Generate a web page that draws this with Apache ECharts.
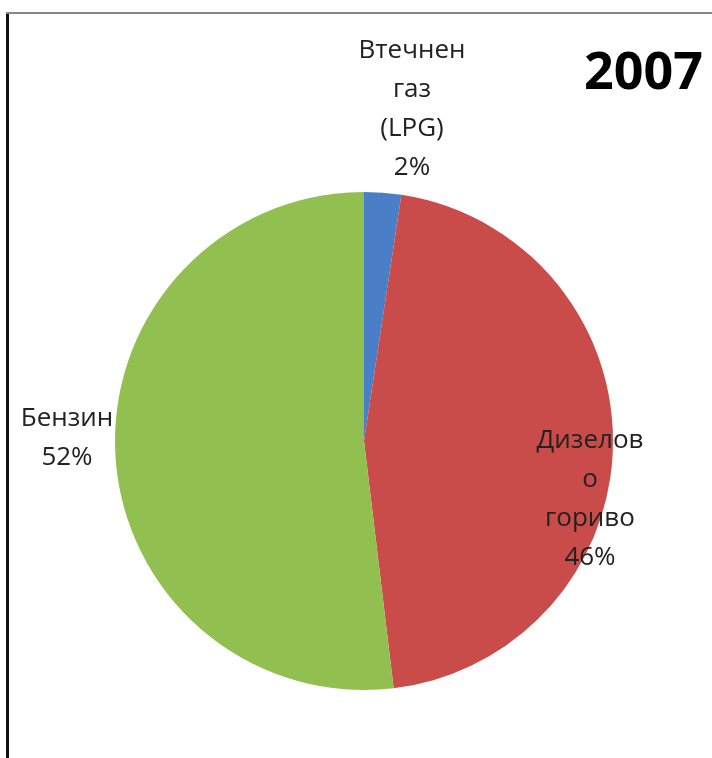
<!DOCTYPE html>
<html>
<head>
<meta charset="utf-8">
<script src="https://cdn.jsdelivr.net/npm/echarts@6/dist/echarts.min.js"></script>
<style>
  html, body { margin: 0; padding: 0; background: #fff; }
  #chart { width: 712px; height: 758px; }
</style>
</head>
<body>
<div id="chart"></div>
<script>
// данни
var names = ['Втечнен\nгаз\n(LPG)', 'Дизелов\nо\nгориво', 'Бензин'];
var values = [2.4, 45.7, 51.9];
var colors = ['#4a7ec6', '#c94c4a', '#92c050'];

// pie geometry
var cx = 364, cy = 441, r = 249;
// label centres (relative to pie centre)
var labelOffsets = [[48, -332], [226, 58], [-297, -3]];

var chart = echarts.init(document.getElementById('chart'));

var option = {
    backgroundColor: '#fff',
    animation: false,
    title: {
        text: '2007',
        right: 4,
        top: 43,
        textStyle: {
            fontFamily: 'Open Sans',
            fontWeight: 'bold',
            fontSize: 52,
            color: '#000'
        }
    },
    graphic: [
        // рамка
        { type: 'rect', shape: { x: 6, y: 12, width: 3, height: 760 }, style: { fill: '#111' } },
        { type: 'rect', shape: { x: 6, y: 12, width: 720, height: 2 }, style: { fill: '#888' } }
    ],
    series: [{
        type: 'pie',
        center: [cx, cy],
        radius: r,
        startAngle: 90,
        clockwise: true,
        data: names.map(function (n, i) {
            return { name: n, value: values[i], itemStyle: { color: colors[i] } };
        }),
        label: {
            show: true,
            position: 'outside',
            overflow: 'none',
            fontFamily: 'Open Sans',
            fontSize: 26,
            lineHeight: 39,
            color: '#222',
            align: 'center',
            formatter: function (p) {
                return p.name + '\n' + Math.round(p.percent) + '%';
            }
        },
        labelLine: { show: false },
        labelLayout: function (p) {
            var o = labelOffsets[p.dataIndex];
            return { x: cx + o[0], y: cy + o[1], align: 'center', verticalAlign: 'middle' };
        },
        emphasis: { disabled: true }
    }]
};

chart.setOption(option);
</script>
</body>
</html>
